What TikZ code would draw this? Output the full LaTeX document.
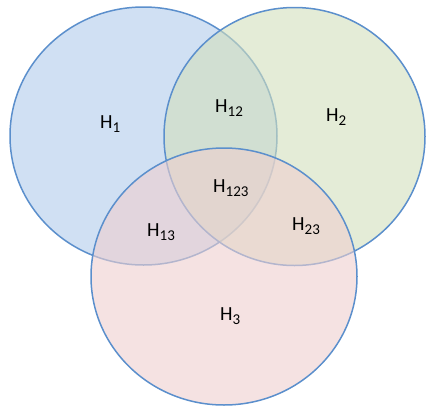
\documentclass[tikz,border=0pt]{standalone}
\usepackage{fontspec}
\setmainfont{Carlito}
\definecolor{setblue}{RGB}{177,203,235}
\definecolor{setgreen}{RGB}{210,223,188}
\definecolor{setpink}{RGB}{238,207,207}
\definecolor{rimblue}{RGB}{91,143,204}
\newcommand{\hsub}[1]{H\raisebox{-4.5pt}{\fontsize{15}{15}\selectfont #1}}

\begin{document}
\begin{tikzpicture}[x=1pt,y=-1pt,
    set/.style={draw=rimblue,line width=1.5pt,fill opacity=0.6},
    lab/.style={anchor=base west,inner sep=0pt,font=\fontsize{20}{20}\selectfont}]
    \useasboundingbox (0,0) rectangle (426,407);
    \filldraw[set,fill=setblue] (143.5,136) ellipse [x radius=133.5,y radius=129];
    \filldraw[set,fill=setgreen] (294.5,136.5) ellipse [x radius=130.5,y radius=129];
    \filldraw[set,fill=setpink] (224,276.5) ellipse [x radius=133,y radius=128.5];
    \node[lab] (h1) at (100,128) {\hsub{1}};
    \node[lab] (h2) at (326,121) {\hsub{2}};
    \node[lab] (h3) at (220,320) {\hsub{3}};
    \node[lab] (h12) at (215,112) {\hsub{12}};
    \node[lab] (h13) at (147,236) {\hsub{13}};
    \node[lab] (h23) at (292,230) {\hsub{23}};
    \node[lab] (h123) at (213,192) {\hsub{123}};
\end{tikzpicture}
\end{document}
